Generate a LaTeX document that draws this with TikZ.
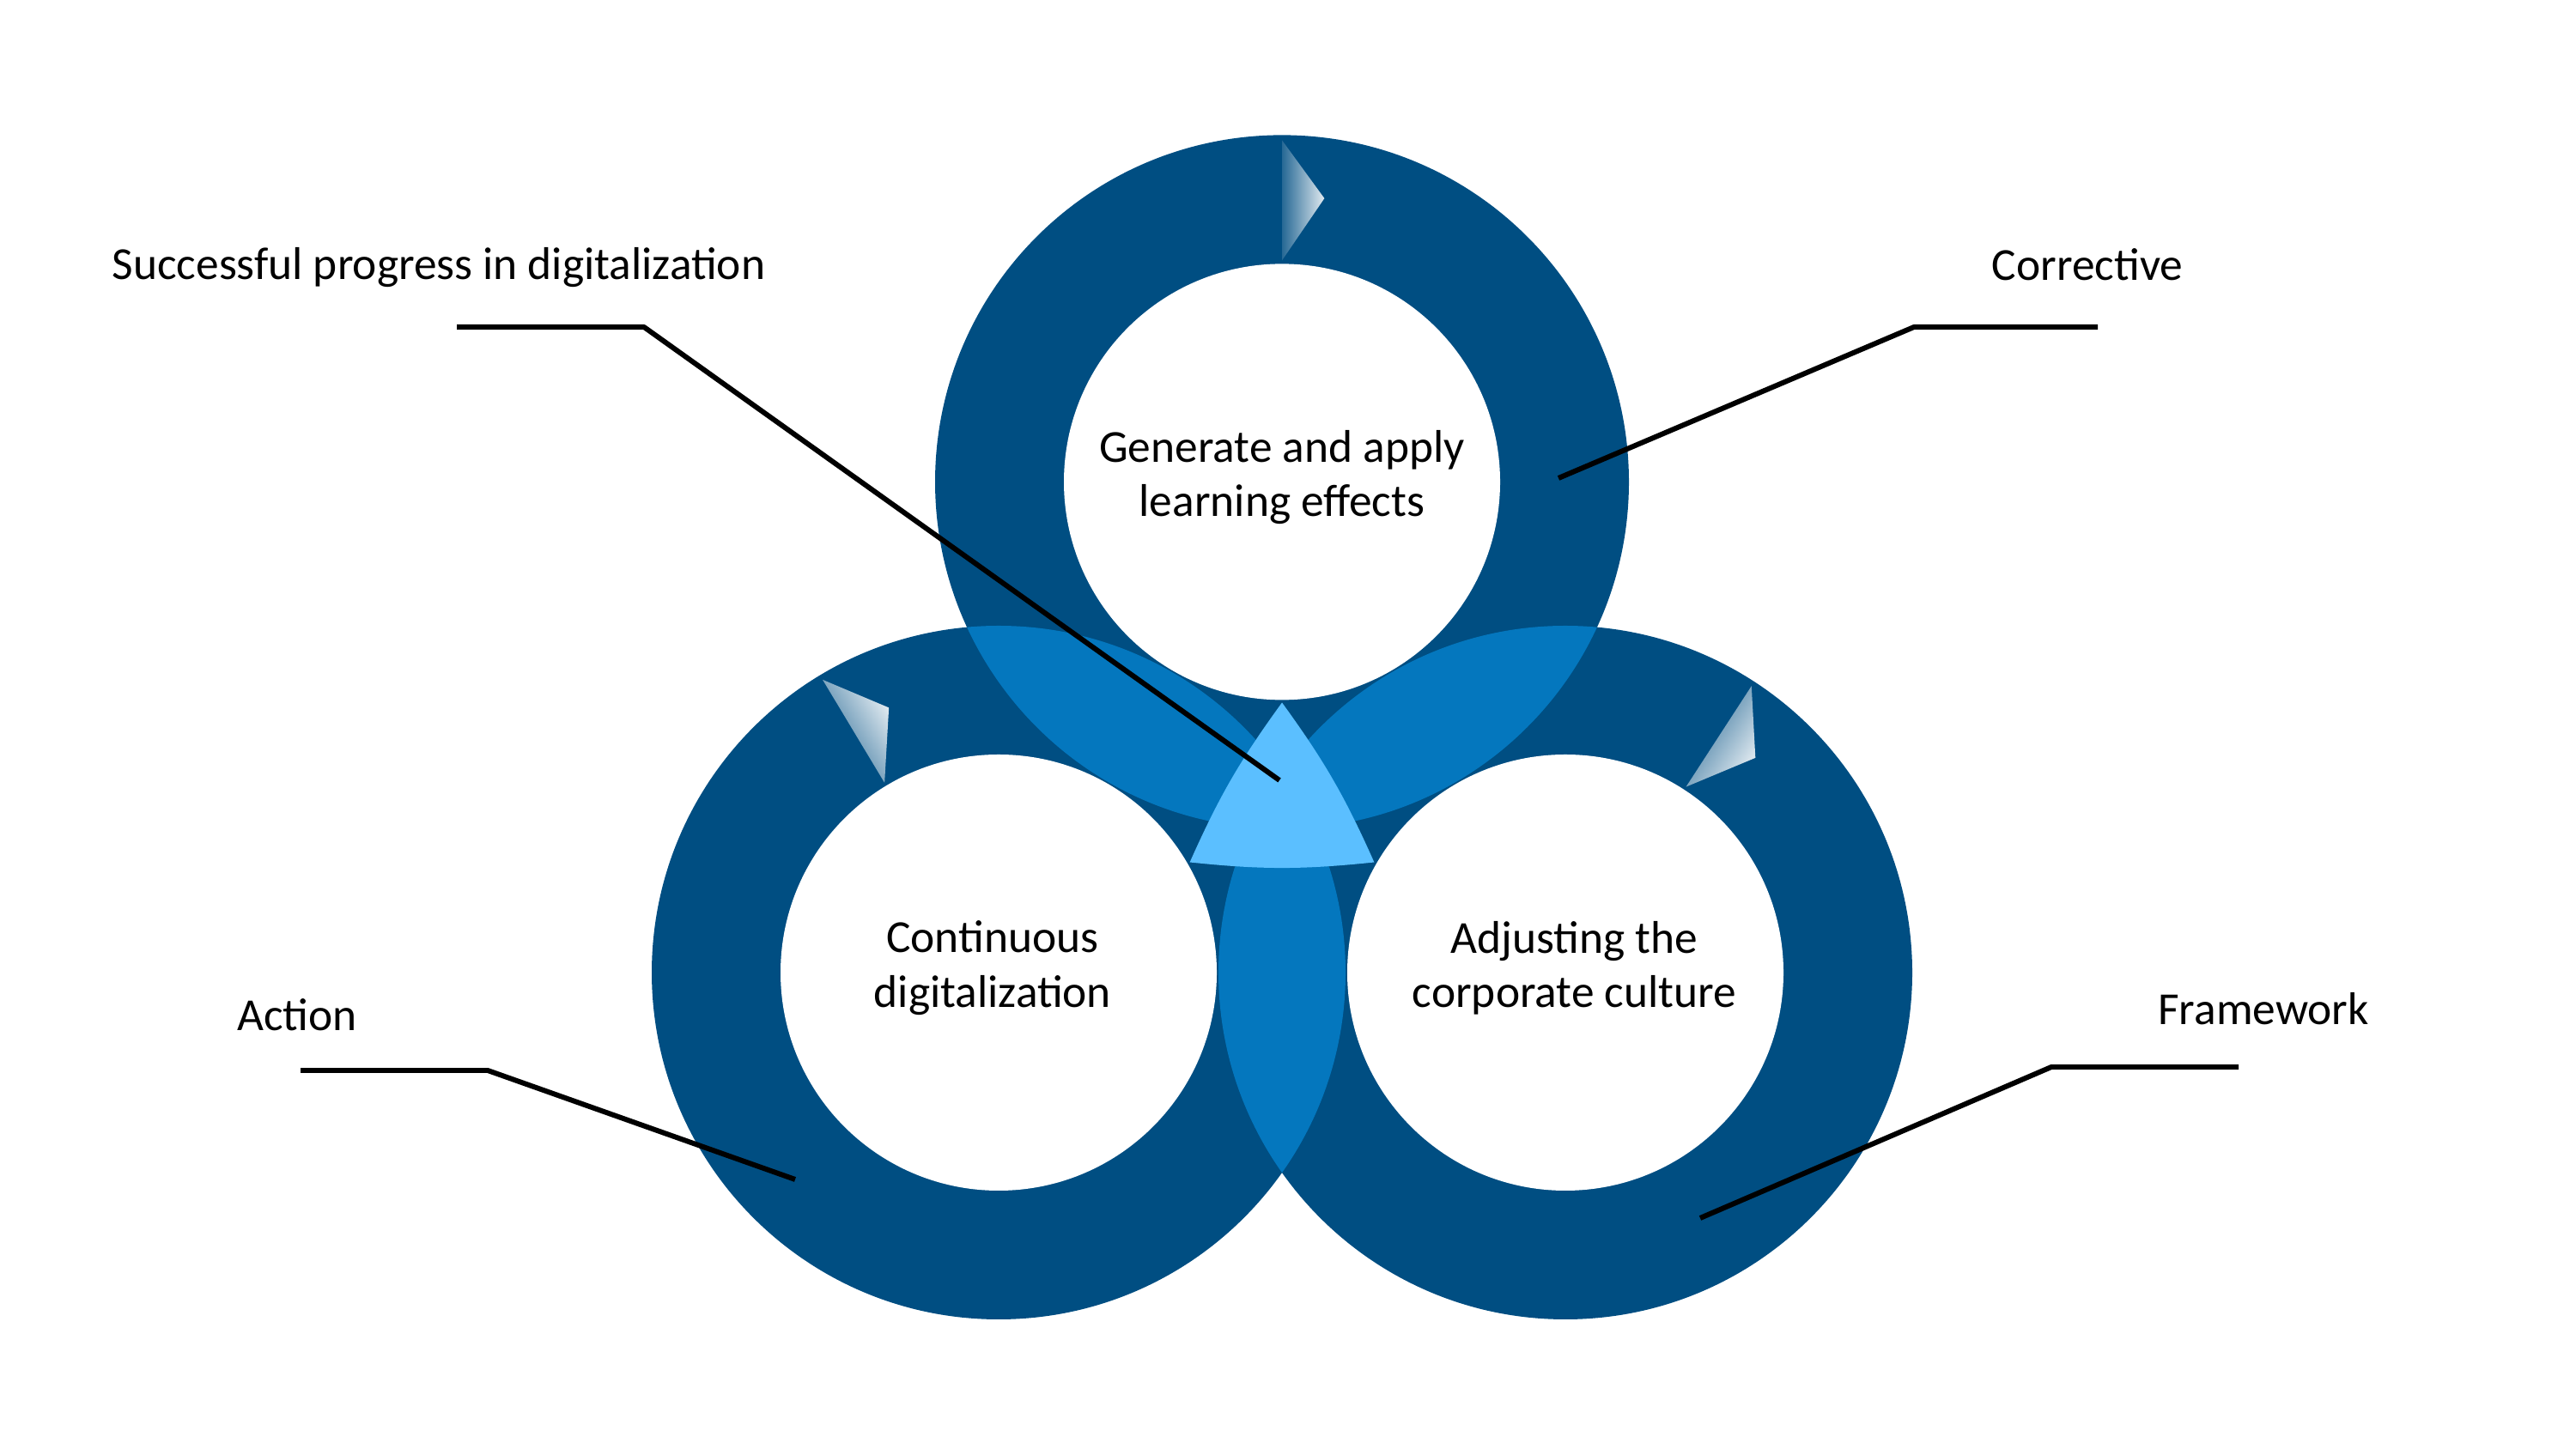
\documentclass[tikz,border=0pt]{standalone}
\usepackage{fontspec}
\setmainfont{Carlito}
\usetikzlibrary{positioning}
\definecolor{ringblue}{RGB}{0,78,130}
\definecolor{midblue}{RGB}{4,119,190}
\definecolor{coreblue}{RGB}{91,191,255}
\begin{document}
\begin{tikzpicture}[line join=round,font=\fontsize{15.2}{18}\selectfont,
		lead/.style={line width=1.7pt},
		lbl/.style={inner sep=0pt,align=center}]
		\useasboundingbox (0,0) rectangle (30,16.95);
		\def\R{4.04}
		\def\r{2.54}
		\coordinate (top) at (14.93,11.336);
		\coordinate (lft) at (11.63,5.62);
		\coordinate (rgt) at (18.23,5.62);
		\coordinate (core) at (14.93,7.525);
		\foreach \c in {top,lft,rgt}
		\fill[ringblue] (\c) circle (\R);
		\foreach \a/\b in {top/lft,top/rgt,lft/rgt}{
			\begin{scope}
			\clip (\a) circle (\R);
			\fill[midblue] (\b) circle (\R);
			\end{scope}
		}
		\fill[coreblue,shift={(core)}] (90:1.24) to[bend left=6] (-30:1.24) to[bend left=6] (210:1.24) to[bend left=6] (90:1.24) -- cycle;
		\foreach \c/\t [evaluate=\t as \s using \t-180] in {top/90,lft/121,rgt/57}
		\shade[shift={(\c)},bottom color=ringblue!85!white,top color=white!88!ringblue,shading angle=\s]
		(\t:2.58) -- (\t:3.98) -- (\t-8.5:3.34) -- cycle;
		\foreach \c in {top,lft,rgt}
		\fill[white] (\c) circle (\r);
		\node[lbl,yshift=1.5pt] (gen) at (top) {Generate and apply\\learning effects};
		\node[lbl,yshift=1.5pt,xshift=-2pt] (cont) at (lft) {Continuous\\digitalization};
		\node[lbl,yshift=1.5pt,xshift=3pt] (adj) at (rgt) {Adjusting the\\corporate culture};
		\node[lbl,anchor=west] (succ) at (1.30,13.83) {Successful progress in digitalization};
		\node[lbl] (corr) at (24.31,13.87) {Corrective};
		\node[lbl] (act) at (3.46,5.13) {Action};
		\node[lbl] (frame) at (26.36,5.20) {Framework};
		\coordinate (succ-a) at (5.32,13.14);
		\coordinate (succ-b) at (7.50,13.14);
		\coordinate (succ-c) at (14.90,7.86);
		\coordinate (corr-a) at (24.43,13.14);
		\coordinate (corr-b) at (22.29,13.14);
		\coordinate (corr-c) at (18.15,11.38);
		\coordinate (act-a) at (3.50,4.48);
		\coordinate (act-b) at (5.68,4.48);
		\coordinate (act-c) at (9.26,3.21);
		\coordinate (frame-a) at (26.07,4.52);
		\coordinate (frame-b) at (23.89,4.52);
		\coordinate (frame-c) at (19.80,2.76);
		\draw[lead] (succ-a)--(succ-b)--(succ-c);
		\draw[lead] (corr-a)--(corr-b)--(corr-c);
		\draw[lead] (act-a)--(act-b)--(act-c);
		\draw[lead] (frame-a)--(frame-b)--(frame-c);
	\end{tikzpicture}
\end{document}
